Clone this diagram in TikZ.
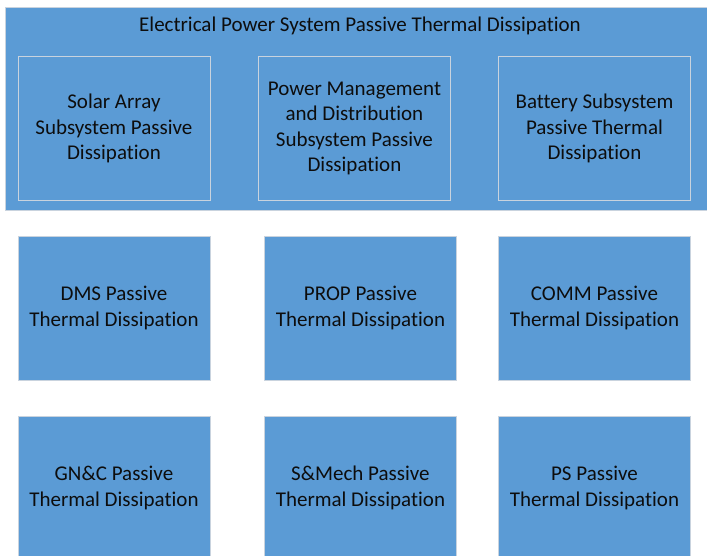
\documentclass[tikz,border=0pt]{standalone}
\usepackage{fontspec}
\setmainfont[Ligatures={NoCommon}]{Carlito}
\usetikzlibrary{positioning}
\definecolor{epsBlue}{HTML}{5B9BD5}
\definecolor{epsEdge}{HTML}{C9D3DE}

\begin{document}
\begin{tikzpicture}[x=1pt, y=-1pt,
    groupBox/.style={draw=epsEdge, line width=0.9pt, rectangle, fill=epsBlue, inner sep=0pt},
    unitBox/.style={draw=epsEdge, line width=0.9pt, rectangle, fill=epsBlue, align=center, font=\fontsize{21}{25.6}\selectfont, text=black!95, minimum width=192pt, minimum height=144pt, inner sep=2pt, anchor=north west},
]
\useasboundingbox (0,0) rectangle (707,555);
\begin{scope}
\clip (0,0) rectangle (707,555);
% EPS group frame
\node[groupBox, minimum width=715pt, minimum height=203pt, anchor=north west] (eps) at (5,7) {};
\node[font=\fontsize{21}{25.6}\selectfont, text=black!95] (epsTitle) at (360,25.5) {Electrical Power System Passive Thermal Dissipation};
\node[unitBox] (solar) at (17.5,56) {Solar Array\\Subsystem Passive\\Dissipation};
\node[unitBox] (pmad)  at (258,56)  {Power Management\\and Distribution\\Subsystem Passive\\Dissipation};
\node[unitBox] (batt)  at (498,56)  {Battery Subsystem\\Passive Thermal\\Dissipation};
% other subsystems
\node[unitBox] (dms)   at (17.5,235.5) {DMS Passive\\Thermal Dissipation};
\node[unitBox] (prop)  at (264,235.5)  {PROP Passive\\Thermal Dissipation};
\node[unitBox] (comm)  at (498,235.5)  {COMM Passive\\Thermal Dissipation};
\node[unitBox] (gnc)   at (17.5,415.5) {GN\&C Passive\\Thermal Dissipation};
\node[unitBox] (smech) at (264,415.5)  {S\&Mech Passive\\Thermal Dissipation};
\node[unitBox] (ps)    at (498,415.5)  {PS Passive\\Thermal Dissipation};
\end{scope}
\end{tikzpicture}
\end{document}
